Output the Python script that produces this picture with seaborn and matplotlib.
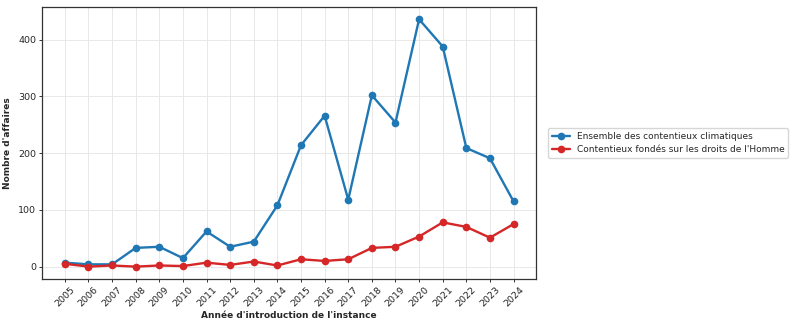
import matplotlib
matplotlib.use("Agg")
import matplotlib.pyplot as plt
import seaborn as sns
import pandas as pd

years = list(range(2005, 2025))
total_cases = [7, 4, 4, 33, 35, 15, 62, 35, 44, 108, 214, 266, 118, 302, 254, 436, 388, 209, 191, 115]
human_rights = [5, 0, 2, 0, 2, 1, 7, 3, 9, 2, 13, 10, 13, 33, 35, 53, 78, 70, 51, 75]
series_names = ["Ensemble des contentieux climatiques",
                "Contentieux fondés sur les droits de l'Homme"]

df = pd.DataFrame({
    "year": years * 2,
    "count": total_cases + human_rights,
    "series": [series_names[0]] * len(years) + [series_names[1]] * len(years),
})

sns.set_theme(style="whitegrid")
plt.rcParams["font.family"] = ["DejaVu Sans"]

fig = plt.figure(figsize=(8, 3.29), dpi=100)
ax = fig.add_axes([0.053, 0.152, 0.617, 0.827])

sns.lineplot(data=df, x="year", y="count", hue="series",
             palette=["#1f77b4", "#d62728"], marker="o", markersize=5.5,
             markeredgewidth=0, linewidth=1.7, ax=ax)

ax.set_xticks(years)
ax.set_xticklabels([str(y) for y in years], rotation=45, fontsize=6.8)
ax.tick_params(axis="y", labelsize=6.8)
ax.tick_params(axis="both", which="both", length=2.5, width=0.7, color="#333333",
               bottom=True, left=True, pad=2)
ax.set_xlabel("Année d'introduction de l'instance", fontsize=6.5, fontweight="bold", labelpad=2)
ax.set_ylabel("Nombre d'affaires", fontsize=6.5, fontweight="bold", labelpad=4)
ax.grid(True, color="#e8e8e8", linewidth=0.7)
for s in ax.spines.values():
    s.set_color("#333333")
    s.set_linewidth(0.9)
ax.margins(x=0.05, y=0.05)

leg = ax.legend(loc="center left", bbox_to_anchor=(1.015, 0.5), fontsize=6.5,
                frameon=True, title=None)
leg.get_frame().set_edgecolor("#cccccc")

fig.savefig("out.png", dpi=100)
